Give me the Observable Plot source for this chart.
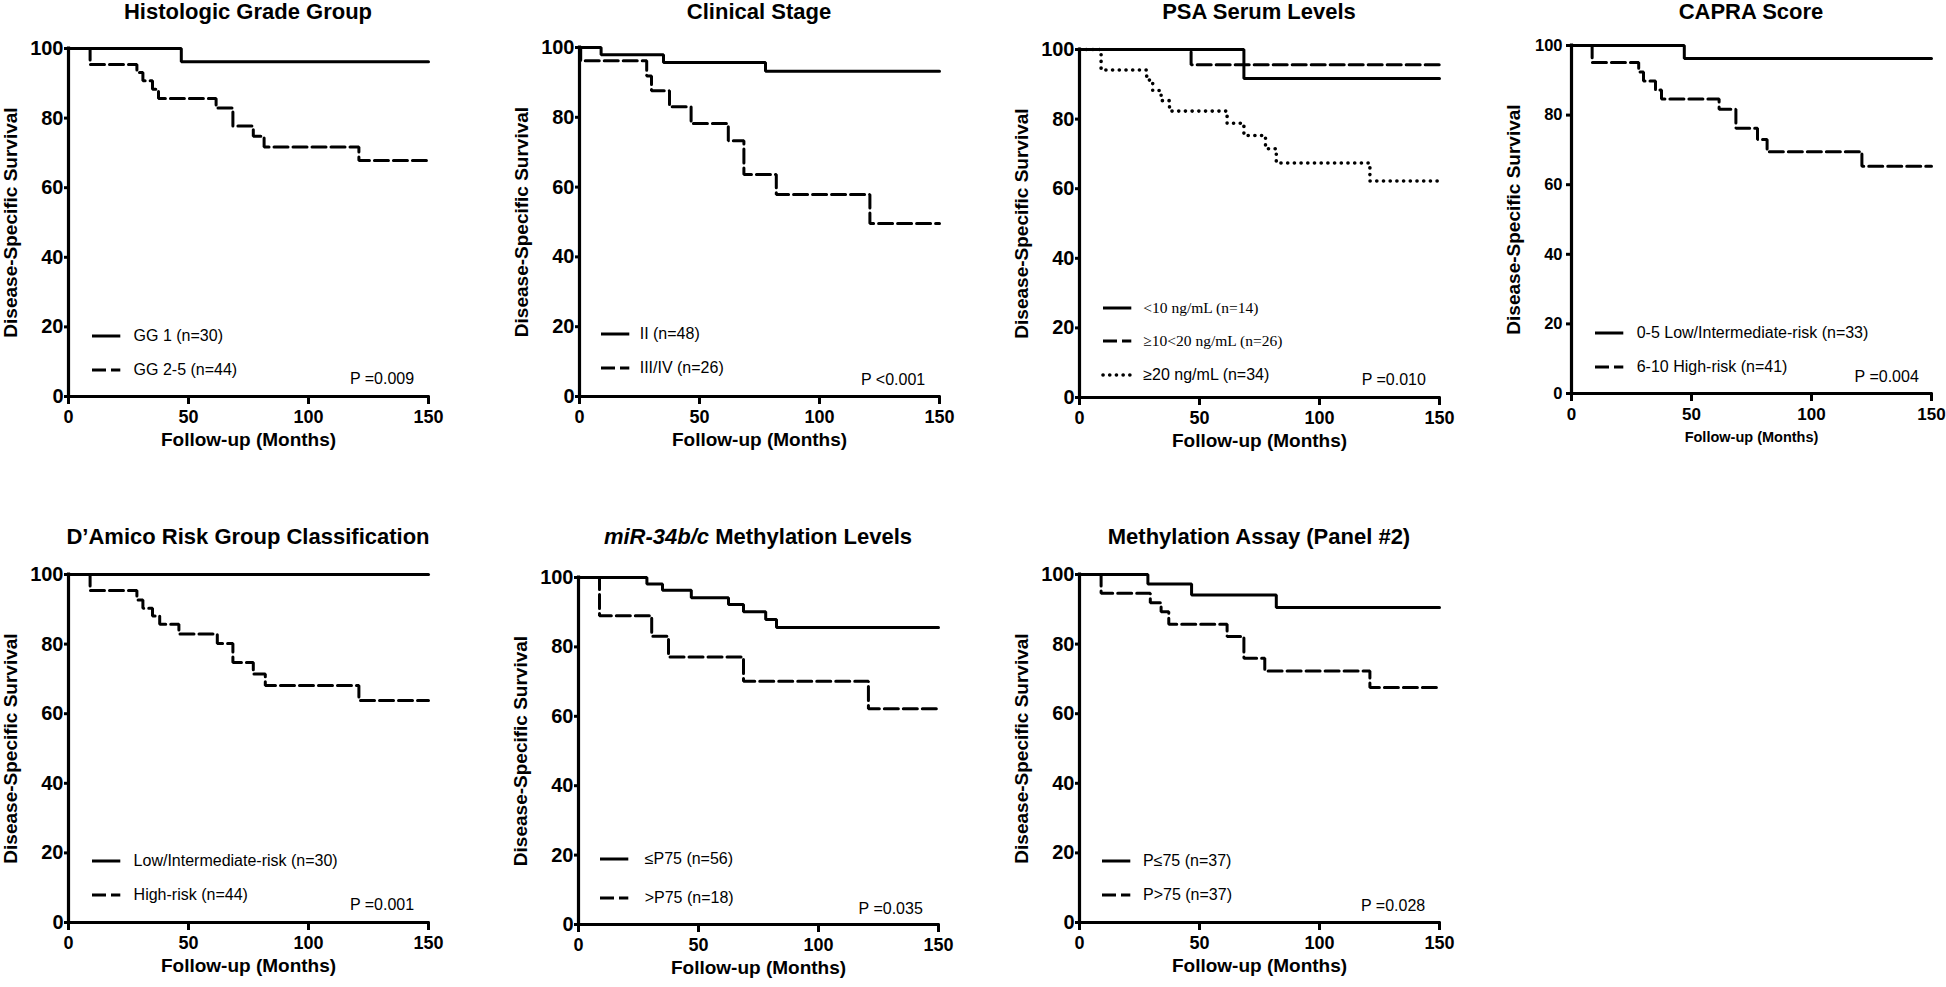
<!DOCTYPE html>
<html><head><meta charset="utf-8">
<script src="https://cdn.jsdelivr.net/npm/d3@7"></script>
<script src="https://cdn.jsdelivr.net/npm/@observablehq/plot@0.6"></script>
<style>
body{margin:0;background:#fff;}
#page{position:relative;width:1946px;height:987px;overflow:hidden;background:#fff;font-family:"Liberation Sans",Arial,sans-serif;color:#000;}
.title{position:absolute;width:800px;text-align:center;font-weight:bold;font-size:22px;line-height:22px;white-space:nowrap;}
.leg{position:absolute;font-size:16px;line-height:20px;height:20px;white-space:nowrap;}
.serif{font-family:"Liberation Serif","Times New Roman",serif;font-size:15.5px;}
.sample{position:absolute;overflow:visible;}
</style></head><body><div id="page"></div>
<script>
// ---------- data ----------
const xTicks = [0, 50, 100, 150];
const yTicks = [0, 20, 40, 60, 80, 100];

const panelTitles = [
  "Histologic Grade Group", "Clinical Stage", "PSA Serum Levels", "CAPRA Score",
  "D\u2019Amico Risk Group Classification", "<i>miR-34b/c</i> Methylation Levels", "Methylation Assay (Panel #2)"
];
const pValues = ["P =0.009", "P <0.001", "P =0.010", "P =0.004", "P =0.001", "P =0.035", "P =0.028"];

// Histologic Grade Group
const gg1Months = [0, 47, 150];
const gg1Surv = [100, 96.2, 96.2];
const gg25Months = [0, 9, 28.5, 31, 35, 37.5, 61.5, 68.5, 77, 81.5, 121, 150];
const gg25Surv = [100, 95.4, 93.1, 90.7, 88.3, 85.6, 82.9, 77.7, 74.8, 71.7, 67.8, 67.8];
// Clinical Stage
const stIIMonths = [0, 9, 35, 77.5, 150];
const stIISurv = [100, 97.9, 95.7, 93.2, 93.2];
const stIIIMonths = [0, 0.5, 28, 30, 37.5, 46.5, 62, 68.5, 82, 121, 150];
const stIIISurv = [100, 96.2, 91.8, 87.6, 83.0, 78.2, 73.3, 63.6, 57.9, 49.6, 49.6];
// PSA Serum Levels
const psaLowMonths = [0, 68.5, 150];
const psaLowSurv = [100, 91.7, 91.7];
const psaMidMonths = [0, 46.5, 150];
const psaMidSurv = [100, 95.6, 95.6];
const psaHighMonths = [0, 9, 28, 30.5, 34, 37.5, 61.5, 68.5, 77.5, 82, 121, 150];
const psaHighSurv = [100, 94.1, 91.2, 88.2, 85.3, 82.3, 78.8, 75.3, 71.5, 67.4, 62.2, 62.2];
// CAPRA Score
const capLowMonths = [0, 47, 150];
const capLowSurv = [100, 96.3, 96.3];
const capHighMonths = [0, 8.6, 28, 30, 35, 37.5, 61.5, 68.5, 77.5, 81.5, 121, 150];
const capHighSurv = [100, 95.1, 92.4, 89.8, 87.2, 84.6, 81.7, 76.2, 73.0, 69.5, 65.3, 65.3];
// D'Amico
const damLowMonths = [0, 150];
const damLowSurv = [100, 100];
const damHighMonths = [0, 9, 28.5, 31, 35, 38, 46, 62, 68.5, 77, 82, 121, 150];
const damHighSurv = [100, 95.4, 92.7, 90.3, 88.1, 85.7, 82.9, 80.2, 74.7, 71.4, 68.1, 63.8, 63.8];
// miR-34b/c
const mirLowMonths = [0, 28.5, 35, 47, 62.5, 68.75, 78, 82.5, 150];
const mirLowSurv = [100, 98.1, 96.3, 94.2, 92.2, 90.1, 87.9, 85.6, 85.6];
const mirHighMonths = [0, 8.75, 30.5, 37.5, 68.75, 120.8, 150];
const mirHighSurv = [100, 89.0, 83.1, 77.1, 70.1, 62.2, 62.2];
// Methylation Assay (Panel #2)
const metLowMonths = [0, 28.5, 46.7, 82, 150];
const metLowSurv = [100, 97.3, 94.1, 90.5, 90.5];
const metHighMonths = [0, 9, 29.5, 34, 37.2, 61.5, 68.5, 77.2, 121, 150];
const metHighSurv = [100, 94.6, 91.9, 89.3, 85.7, 82.2, 75.9, 72.3, 67.5, 67.5];

const legendLabels = [
  ["GG 1 (n=30)", "GG 2-5 (n=44)"],
  ["II (n=48)", "III/IV (n=26)"],
  ["<span class='serif'>&lt;10 ng/mL (n=14)</span>", "<span class='serif'>\u226510&lt;20 ng/mL (n=26)</span>", "\u226520 ng/mL (n=34)"],
  ["0-5 Low/Intermediate-risk (n=33)", "6-10 High-risk (n=41)"],
  ["Low/Intermediate-risk (n=30)", "High-risk (n=44)"],
  ["\u2264P75 (n=56)", "&gt;P75 (n=18)"],
  ["P\u226475 (n=37)", "P&gt;75 (n=37)"]
];

// ---------- layout ----------
const zip = (ms, ss) => ms.map((t, i) => ({t, s: ss[i]}));
const panels = [
  {left: 68, top: 48, h: 348, base: 20, series: [[gg1Months, gg1Surv, "solid"], [gg25Months, gg25Surv, "dashed"]],
   legX: 24, legT: 65.6, rows: [-59.7, -26.4], pdx: -14.4, pdy: -17.4},
  {left: 579, top: 47, h: 349, base: 20, series: [[stIIMonths, stIISurv, "solid"], [stIIIMonths, stIIISurv, "dashed"]],
   legX: 22.4, legT: 60.7, rows: [-62.4, -28], pdx: -14.3, pdy: -16.7},
  {left: 1079, top: 49, h: 348, base: 20, series: [[psaLowMonths, psaLowSurv, "solid"], [psaMidMonths, psaMidSurv, "dashed"], [psaHighMonths, psaHighSurv, "dotted"]],
   legX: 23.7, legT: 64.3, rows: [-89, -56.3, -22.3], pdx: -13.6, pdy: -17.3},
  {left: 1571, top: 45, h: 348, base: 20, series: [[capLowMonths, capLowSurv, "solid"], [capHighMonths, capHighSurv, "dashed"]],
   legX: 24, legT: 65.7, rows: [-60, -25.6], pdx: -12.7, pdy: -16.6, small: true},
  {left: 68, top: 574, h: 348, base: 545, series: [[damLowMonths, damLowSurv, "solid"], [damHighMonths, damHighSurv, "dashed"]],
   legX: 24, legT: 65.6, rows: [-61.3, -27.3], pdx: -14.4, pdy: -17.3},
  {left: 578, top: 577, h: 347, base: 545, series: [[mirLowMonths, mirLowSurv, "solid"], [mirHighMonths, mirHighSurv, "dashed"]],
   legX: 21.7, legT: 66.7, rows: [-65, -26], pdx: -15.7, pdy: -16},
  {left: 1079, top: 574, h: 348, base: 545, series: [[metLowMonths, metLowSurv, "solid"], [metHighMonths, metHighSurv, "dashed"]],
   legX: 23.4, legT: 64, rows: [-60.6, -27.3], pdx: -14.3, pdy: -16.6}
];

const W = 360, mL = 90, mR = 40, mT = 20, mB = 80;
const lineStyle = {
  solid: {strokeWidth: 3},
  dashed: {strokeWidth: 3, strokeDasharray: "14,5"},
  dotted: {strokeWidth: 3.6, strokeDasharray: "0.1,6.6", strokeLinecap: "round"}
};
const page = document.getElementById("page");

panels.forEach((p, i) => {
  const ytf = p.small ? 16.5 : 20;
  const xtf = p.small ? 17 : 18;
  const lines = p.series.map(([ms, ss, st]) =>
    Plot.line(zip(ms, ss), {x: "t", y: "s", curve: "step-after", stroke: "#000", strokeLinejoin: "miter", ...lineStyle[st]}));
  const svg = Plot.plot({
    width: mL + W + mR, height: mT + p.h + mB,
    marginLeft: mL, marginRight: mR, marginTop: mT, marginBottom: mB,
    x: {domain: [0, 150]}, y: {domain: [0, 100]},
    style: {fontFamily: "'Liberation Sans', Arial, sans-serif", fontWeight: "bold", color: "#000", background: "transparent", overflow: "visible"},
    marks: [
      Plot.axisY({ticks: yTicks, tickSize: p.small ? 5 : 4, tickPadding: p.small ? 4 : 1, strokeWidth: 3, label: null, fontSize: ytf, fontWeight: "bold"}),
      Plot.axisX({ticks: xTicks, tickSize: 8, tickPadding: 6, strokeWidth: 3, label: null, fontSize: xtf, fontWeight: "bold"}),
      Plot.ruleX([0], {strokeWidth: 3.2, strokeLinecap: "square"}),
      Plot.ruleY([0], {strokeWidth: 3.2, strokeLinecap: "square"}),
      ...lines,
      Plot.text(["Disease-Specific Survival"], {text: d => d, frameAnchor: "left", rotate: -90, dx: -58, textAnchor: "middle", lineAnchor: "middle", fontSize: 19, fontWeight: "bold"}),
      Plot.text(["Follow-up (Months)"], {text: d => d, frameAnchor: "bottom", dy: p.small ? 44 : 43, textAnchor: "middle", lineAnchor: "middle", fontSize: p.small ? 14.5 : 19, fontWeight: "bold"}),
      Plot.text([pValues[i]], {text: d => d, frameAnchor: "bottom-right", dx: p.pdx, dy: p.pdy, textAnchor: "end", lineAnchor: "middle", fontSize: 16, fontWeight: "normal"})
    ]
  });
  svg.style.position = "absolute";
  svg.style.left = (p.left - mL) + "px";
  svg.style.top = (p.top - mT) + "px";
  page.appendChild(svg);

  // title
  const t = document.createElement("div");
  t.className = "title";
  t.innerHTML = panelTitles[i];
  t.style.left = (p.left + W / 2 - 400) + "px";
  t.style.top = (p.base - 18.6) + "px";
  page.appendChild(t);

  // legend
  const bottom = p.top + p.h;
  p.series.forEach(([ms, ss, st], j) => {
    const cy = bottom + p.rows[j];
    const ls = lineStyle[st];
    const s = document.createElementNS("http://www.w3.org/2000/svg", "svg");
    s.setAttribute("class", "sample");
    s.setAttribute("width", 30); s.setAttribute("height", 10);
    s.style.left = (p.left + p.legX) + "px";
    s.style.top = (cy - 5) + "px";
    s.innerHTML = `<line x1="0" y1="5" x2="28.3" y2="5" stroke="#000" stroke-width="${ls.strokeWidth}" ${ls.strokeDasharray ? `stroke-dasharray="${ls.strokeDasharray}"` : ""} stroke-linecap="${ls.strokeLinecap || "butt"}"/>`;
    page.appendChild(s);
    const lt = document.createElement("div");
    lt.className = "leg";
    lt.innerHTML = legendLabels[i][j];
    lt.style.left = (p.left + p.legT) + "px";
    lt.style.top = (cy - 10) + "px";
    page.appendChild(lt);
  });
});
</script></body></html>
